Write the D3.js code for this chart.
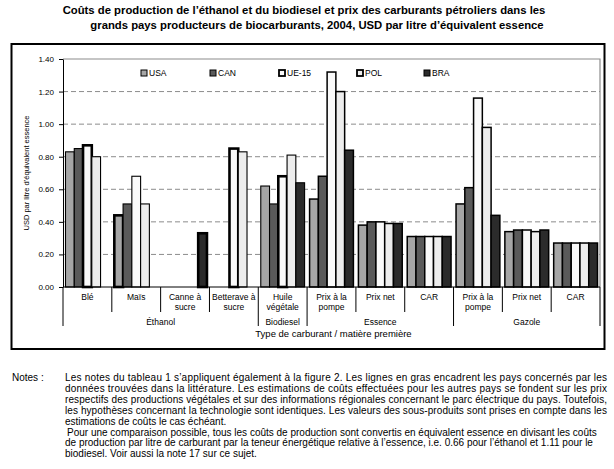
<!DOCTYPE html>
<html>
<head>
<meta charset="utf-8">
<script src="https://cdn.jsdelivr.net/npm/d3@7"></script>
<style>
  body { margin: 0; background: white; }
  svg { display: block; font-family: Arial, "Liberation Sans", sans-serif; }
</style>
</head>
<body>
<div class="chartDiv"></div>
<script>

// -----------------------Data--------------------------------//

let categories = ["Blé", "Maïs", "Canne à sucre", "Betterave à sucre", "Huile végétale",
                  "Prix à la pompe E", "Prix net E", "CAR E", "Prix à la pompe G", "Prix net G", "CAR G"]
let categoryLines = [["Blé"], ["Maïs"], ["Canne à", "sucre"], ["Betterave à", "sucre"], ["Huile", "végétale"],
                     ["Prix à la", "pompe"], ["Prix net"], ["CAR"], ["Prix à la", "pompe"], ["Prix net"], ["CAR"]]
let groups = ["Éthanol", "Biodiesel", "Essence", "Gazole"]
let groupSpans = [[0, 3], [4, 4], [5, 7], [8, 10]]

let seriesNames = ["USA", "CAN", "UE-15", "POL", "BRA"]
let usa  = [0.83, 0.44, null, null, 0.62, 0.54, 0.38, 0.31, 0.51, 0.34, 0.27]
let can  = [0.85, 0.51, null, null, 0.51, 0.68, 0.40, 0.31, 0.61, 0.35, 0.27]
let ue15 = [0.87, 0.68, null, 0.85, 0.68, 1.32, 0.40, 0.31, 1.16, 0.35, 0.27]
let pol  = [0.80, 0.51, null, 0.83, 0.81, 1.20, 0.39, 0.31, 0.98, 0.34, 0.27]
let bra  = [null, null, 0.33, null, 0.64, 0.84, 0.39, 0.31, 0.44, 0.35, 0.27]

// bars framed in bold (data found in literature)
let boldBars = [[0, "UE-15"], [1, "USA"], [2, "BRA"], [3, "UE-15"], [4, "UE-15"]]

let yTicks = [0, 0.2, 0.4, 0.6, 0.8, 1.0, 1.2, 1.4]

let noteLines = [
  "Les notes du tableau 1 s’appliquent également à la figure 2. Les lignes en gras encadrent les pays concernés par les",
  "données trouvées dans la littérature. Les estimations de coûts effectuées pour les autres pays se fondent sur les prix",
  "respectifs des productions végétales et sur des informations régionales concernant le parc électrique du pays. Toutefois,",
  "les hypothèses concernant la technologie sont identiques. Les valeurs des sous-produits sont prises en compte dans les",
  "estimations de coûts le cas échéant.",
  "Pour une comparaison possible, tous les coûts de production sont convertis en équivalent essence en divisant les coûts",
  "de production par litre de carburant par la teneur énergétique relative à l’essence, i.e. 0.66 pour l’éthanol et 1.11 pour le",
  "biodiesel. Voir aussi la note 17 sur ce sujet."
]
let justified = [true, true, true, true, false, false, false, false]

// -----------------------Setup--------------------------------//

let colors = {"USA": "#a6a6a6", "CAN": "#5a5a5a", "UE-15": "#fafafa", "POL": "#ededed", "BRA": "#2b2b2b"}
let seriesValues = {"USA": usa, "CAN": can, "UE-15": ue15, "POL": pol, "BRA": bra}

let W = 614, H = 469
let plot = {left: 63, right: 600, top: 59, bottom: 287}

let svg = d3.select(".chartDiv").append("svg")
    .attr("width", W)
    .attr("height", H)

// title
svg.append("text")
    .attr("x", 304).attr("y", 14)
    .attr("text-anchor", "middle")
    .style("font-size", "11.3px").style("font-weight", "bold")
    .text("Coûts de production de l’éthanol et du biodiesel et prix des carburants pétroliers dans les")
svg.append("text")
    .attr("x", 317).attr("y", 29)
    .attr("text-anchor", "middle")
    .style("font-size", "11.3px").style("font-weight", "bold")
    .text("grands pays producteurs de biocarburants, 2004, USD par litre d’équivalent essence")

// outer frame
svg.append("rect")
    .attr("x", 11.5).attr("y", 44)
    .attr("width", 593).attr("height", 305)
    .attr("fill", "none")
    .attr("stroke", "black")
    .attr("stroke-width", 2)

let x = d3.scaleBand().domain(d3.range(categories.length)).range([plot.left, plot.right])
let xs = d3.scaleBand().domain(seriesNames).range([2.5, x.bandwidth() - 2.5])
let y = d3.scaleLinear().domain([0, 1.4]).range([plot.bottom, plot.top])

// gridlines
svg.append("g").selectAll("line")
    .data(yTicks.filter(d => d > 0 && d < 1.4))
    .join("line")
    .attr("x1", plot.left).attr("x2", plot.right)
    .attr("y1", d => y(d)).attr("y2", d => y(d))
    .attr("stroke", "#8c8c8c")
    .attr("stroke-dasharray", "5,3")

// plot area top / right border
svg.append("path")
    .attr("d", `M${plot.left},${y(1.4)}H${plot.right}V${plot.bottom}`)
    .attr("fill", "none")
    .attr("stroke", "#8c8c8c")
    .attr("stroke-width", 1.2)

// y axis
let yAxis = d3.axisLeft(y).tickValues(yTicks).tickFormat(d3.format(".2f")).tickSize(4).tickSizeOuter(0)
let yG = svg.append("g")
    .attr("transform", `translate(${plot.left},0)`)
    .call(yAxis)
yG.selectAll("text").style("font-size", "8px").attr("dx", "-2")
yG.select(".domain").attr("stroke", "black")

svg.append("text")
    .attr("transform", `translate(29,${(plot.top + plot.bottom) / 2}) rotate(-90)`)
    .attr("text-anchor", "middle")
    .style("font-size", "7.5px")
    .text("USD par litre d’équivalent essence")

// bars
let barData = []
seriesNames.forEach(s => {
  seriesValues[s].forEach((v, i) => {
    if (v === null) return
    let bold = boldBars.some(b => b[0] === i && b[1] === s)
    barData.push({cat: i, series: s, value: v, bold: bold})
  })
})

svg.append("g").selectAll("rect")
    .data(barData)
    .join("rect")
    .attr("x", d => x(d.cat) + xs(d.series))
    .attr("y", d => y(d.value))
    .attr("width", xs.bandwidth())
    .attr("height", d => y(0) - y(d.value))
    .attr("fill", d => colors[d.series])
    .attr("stroke", "black")
    .attr("stroke-width", d => d.bold ? 2.6 : (d.cat >= 5 ? 1.5 : 1.1))

// x axis baseline
svg.append("line")
    .attr("x1", plot.left).attr("x2", plot.right)
    .attr("y1", plot.bottom).attr("y2", plot.bottom)
    .attr("stroke", "black")

// category separators
let groupEdges = groupSpans.map(g => g[0]).concat([categories.length])
svg.append("g").selectAll("line")
    .data(d3.range(categories.length + 1))
    .join("line")
    .attr("x1", i => i < categories.length ? x(i) : plot.right)
    .attr("x2", i => i < categories.length ? x(i) : plot.right)
    .attr("y1", plot.bottom)
    .attr("y2", i => groupEdges.includes(i) ? 326 : 312)
    .attr("stroke", "black")

// category labels
let catG = svg.append("g")
categoryLines.forEach((lines, i) => {
  lines.forEach((t, j) => {
    catG.append("text")
        .attr("x", x(i) + x.bandwidth() / 2)
        .attr("y", 300 + j * 9.5)
        .attr("text-anchor", "middle")
        .style("font-size", "8.5px")
        .text(t)
  })
})

// group labels
svg.append("g").selectAll("text")
    .data(groups)
    .join("text")
    .attr("x", (d, i) => (x(groupSpans[i][0]) + x(groupSpans[i][1]) + x.bandwidth()) / 2)
    .attr("y", 324.5)
    .attr("text-anchor", "middle")
    .style("font-size", "8.5px")
    .text(d => d)

svg.append("text")
    .attr("x", (plot.left + plot.right) / 2 + 2)
    .attr("y", 337)
    .attr("text-anchor", "middle")
    .style("font-size", "9.5px")
    .text("Type de carburant / matière première")

// legend
let legendX = [141, 210, 279, 357, 424]
let legend = svg.append("g").selectAll("g")
    .data(seriesNames)
    .join("g")
    .attr("transform", (d, i) => `translate(${legendX[i]},73)`)
legend.append("rect")
    .attr("x", 0).attr("y", -3)
    .attr("width", 6).attr("height", 6)
    .attr("fill", d => colors[d])
    .attr("stroke", "black")
    .attr("stroke-width", d => (d === "UE-15" || d === "POL") ? 1.8 : 1)
legend.append("text")
    .attr("x", 8).attr("y", 3)
    .style("font-size", "8.5px")
    .text(d => d)

// notes
svg.append("text")
    .attr("x", 12).attr("y", 381)
    .style("font-size", "10px")
    .text("Notes :")

svg.append("g").selectAll("text")
    .data(noteLines)
    .join("text")
    .attr("x", (d, i) => i === 5 ? 67 : 65)
    .attr("y", (d, i) => 381 + i * 10.9)
    .attr("textLength", (d, i) => justified[i] ? 542 : null)
    .attr("lengthAdjust", "spacing")
    .style("font-size", "10px")
    .text(d => d)

</script>
</body>
</html>
